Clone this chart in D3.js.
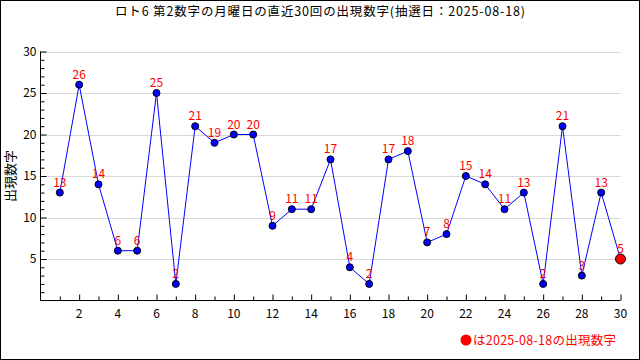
<!DOCTYPE html>
<html><head><meta charset="utf-8">
<script src="https://cdn.jsdelivr.net/npm/d3@7/dist/d3.min.js"></script>
<style>body{margin:0;background:#fff}svg{display:block}</style>
</head><body>
<svg id="c" width="640" height="360"></svg>
<script>
const title = "ロト6 第2数字の月曜日の直近30回の出現数字(抽選日：2025-08-18)";
const yLabel = "出現数字";
const legendText = "は2025-08-18の出現数字";
const draws = d3.range(1, 31);
const values = [13,26,14,6,6,25,2,21,19,20,20,9,11,11,17,4,2,17,18,7,8,15,14,11,13,2,21,3,13,5];
const xTicks = [2,4,6,8,10,12,14,16,18,20,22,24,26,28,30];
const yTicks = [5,10,15,20,25,30];

const font = "'Noto Sans CJK JP', 'DejaVu Sans', sans-serif";
const svg = d3.select("#c");
svg.append("rect").attr("x",0.5).attr("y",0.5).attr("width",639).attr("height",359)
  .attr("fill","#fff").attr("stroke","#000");

const x = d3.scaleLinear().domain([0,30]).range([40.5,620.5]);
const y = d3.scaleLinear().domain([0,30]).range([300.5,51.5]);

// grid
svg.append("g").selectAll("line").data(yTicks).join("line")
  .attr("x1",x(0)).attr("x2",x(30)).attr("y1",d=>Math.round(y(d))+0.5).attr("y2",d=>Math.round(y(d))+0.5)
  .attr("stroke","#d8d8d8");

// y axis
const ya = svg.append("g").attr("transform",`translate(${x(0)},0)`)
  .call(d3.axisRight(y).tickValues(d3.range(1,31)).tickSize(4).tickFormat(""));
ya.select(".domain").remove();
ya.selectAll(".tick line").attr("stroke","#000").attr("x2",d=>d%5===0?6:4);
svg.append("line").attr("x1",x(0)).attr("x2",x(0)).attr("y1",y(30)).attr("y2",y(0)).attr("stroke","#000");
svg.append("g").selectAll("text").data(yTicks).join("text")
  .attr("x",x(0)-4).attr("y",d=>y(d)+4).attr("text-anchor","end")
  .attr("font-family",font).attr("font-size",12).attr("fill","#000").text(d=>d);

// x axis
const xa = svg.append("g").attr("transform",`translate(0,${y(0)})`)
  .call(d3.axisTop(x).tickValues(d3.range(1,31)).tickSize(4).tickFormat(""));
xa.select(".domain").remove();
xa.selectAll(".tick line").attr("stroke","#000").attr("y2",d=>d%2===0?-6:-4);
svg.append("line").attr("x1",x(0)).attr("x2",x(30)).attr("y1",y(0)).attr("y2",y(0)).attr("stroke","#000");
svg.append("g").selectAll("text").data(xTicks).join("text")
  .attr("x",d=>x(d)).attr("y",y(0)+17).attr("text-anchor","middle")
  .attr("font-family",font).attr("font-size",12).attr("fill","#000").text(d=>d);

// line
svg.append("path").datum(values)
  .attr("d", d3.line().x((d,i)=>x(draws[i])).y(d=>y(d)))
  .attr("fill","none").attr("stroke","#0000ff").attr("stroke-width",1);

// points
svg.append("g").selectAll("circle").data(values).join("circle")
  .attr("cx",(d,i)=>x(draws[i])).attr("cy",d=>y(d))
  .attr("r",(d,i)=>i===values.length-1?5:3.5)
  .attr("fill",(d,i)=>i===values.length-1?"#ff0000":"#0000ff")
  .attr("stroke","#000").attr("stroke-width",1);

// value labels
svg.append("g").selectAll("text").data(values).join("text")
  .attr("x",(d,i)=>x(draws[i])).attr("y",d=>y(d)-6)
  .attr("text-anchor","middle").attr("font-family",font).attr("font-size",12)
  .attr("fill","#ff0000").text(d=>d);

// title
svg.append("text").attr("x",115).attr("y",16)
  .attr("textLength",410).attr("lengthAdjust","spacing")
  .attr("font-family",font).attr("font-size",12.5).attr("fill","#000").text(title);

// y label
svg.append("text").attr("transform",`translate(15,${(y(0)+y(30))/2}) rotate(-90)`)
  .attr("text-anchor","middle").attr("font-family",font).attr("font-size",13).attr("fill","#000").text(yLabel);

// legend
const lg = svg.append("g");
lg.append("circle").attr("cx",466).attr("cy",340).attr("r",5.5).attr("fill","#ff0000");
lg.append("text").attr("x",473).attr("y",345)
  .attr("textLength",143).attr("lengthAdjust","spacing")
  .attr("font-family",font).attr("font-size",12.5).attr("fill","#ff0000").text(legendText);
</script>
</body></html>
